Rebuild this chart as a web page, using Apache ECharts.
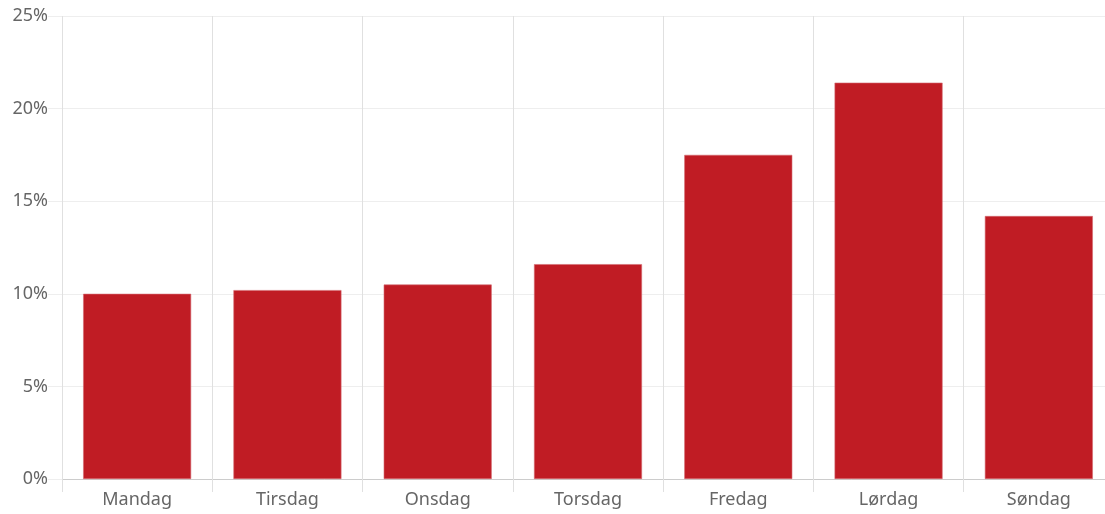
<!DOCTYPE html>
<html>
<head>
<meta charset="utf-8">
<script src="https://cdn.jsdelivr.net/npm/echarts@6/dist/echarts.min.js"></script>
<style>
html,body{margin:0;padding:0;background:#fff;overflow:hidden;width:1105px;height:514px;}
#c{width:1114px;height:514px;}
</style>
</head>
<body>
<div id="c"></div>
<script>
const categories = ["Mandag","Tirsdag","Onsdag","Torsdag","Fredag","Lørdag","Søndag"];
const values = [10.0, 10.2, 10.5, 11.6, 17.5, 21.4, 14.2];

const chart = echarts.init(document.getElementById('c'));
chart.setOption({
  animation: false,
  grid: {left: 62, right: 0, top: 16, bottom: 35},
  xAxis: {
    type: 'category',
    data: categories,
    axisLine: {show: true, lineStyle: {color: '#cccccc', width: 1}},
    axisTick: {show: true, length: 13, lineStyle: {color: '#e0e0e0'}},
    splitLine: {show: true, lineStyle: {color: '#e0e0e0'}},
    axisLabel: {color: '#666666', fontSize: 18, fontFamily: 'Noto Sans', margin: 12}
  },
  yAxis: {
    type: 'value',
    min: 0, max: 25, interval: 5,
    axisLine: {show: false},
    axisTick: {show: true, length: 14, lineStyle: {color: '#eeeeee'}},
    splitLine: {show: true, lineStyle: {color: '#eeeeee'}},
    axisLabel: {color: '#666666', fontSize: 18, fontFamily: 'Noto Sans', margin: 14, formatter: '{value}%'}
  },
  series: [{
    type: 'bar',
    data: values,
    barWidth: 108,
    itemStyle: {color: '#c01c24', borderColor: '#d46a70', borderWidth: 0.6}
  }]
});
</script>
</body>
</html>
